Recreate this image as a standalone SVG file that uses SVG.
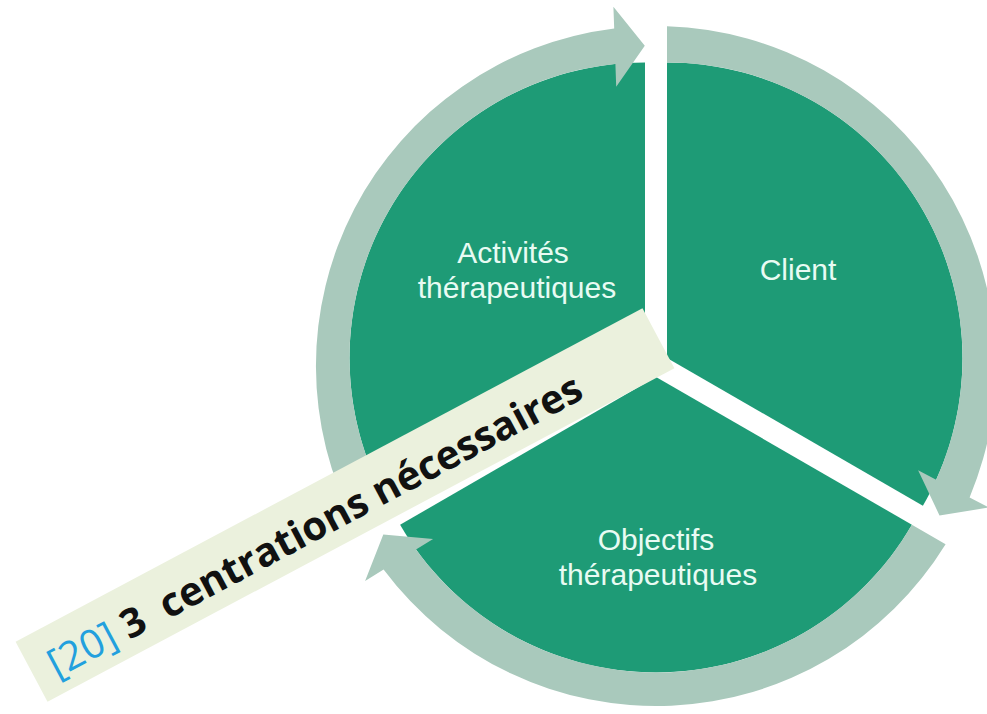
<svg xmlns="http://www.w3.org/2000/svg" width="987" height="714" viewBox="0 0 987 714">
<style>
.wedge{fill:#1e9b76}
.arrow{fill:#a9c9bc}
.lbl{font-family:"Liberation Sans","Open Sans",sans-serif;font-size:30px;fill:#e8fbf3;text-anchor:middle}
.banner{fill:#ebf1dd}
.btxt{font-family:"Open Sans","Noto Sans","Liberation Sans",sans-serif;font-size:40px}
.ref{fill:#22a0de;font-weight:normal}
.main{fill:#111111;font-weight:bold}
</style>
<rect width="987" height="714" fill="#ffffff"/>
<g id="node-client">
<path class="wedge" d="M667,357.95 L667,62.45 A295.5,295.5 0 0 1 922.9,505.7 Z"/>
<text class="lbl" x="798" y="280">Client</text>
</g>
<g id="node-objectifs">
<path class="wedge" d="M656,377 L911.9,524.75 A295.5,295.5 0 0 1 400.1,524.75 Z"/>
<text class="lbl" x="656" y="550">Objectifs</text>
<text class="lbl" x="658" y="585">thérapeutiques</text>
</g>
<g id="node-activites">
<path class="wedge" d="M645,357.95 L389.1,505.7 A295.5,295.5 0 0 1 645,62.45 Z"/>
<text class="lbl" x="513" y="263">Activités</text>
<text class="lbl" x="517" y="298">thérapeutiques</text>
</g>
<g id="connectors">
<path class="arrow" d="M355.5,525.1 A340,340 0 0 1 614.2,28.5 L613.4,6.7 L644.8,45.7 L616.2,86.7 L615.4,63.9 A295.5,295.5 0 0 0 389.1,505.7 Z"/>
<path class="arrow" d="M667,26.2 A340,340 0 0 1 969.6,497.4 L988.9,507.5 L939.5,515.4 L918.1,470.2 L936.2,479.8 A295.5,295.5 0 0 0 667,62.45 Z"/>
<path class="arrow" d="M945.6,544.2 A340,340 0 0 1 383.6,569.5 L365.1,580.9 L383.3,534.4 L433.1,538.9 L416,549.4 A295.5,295.5 0 0 0 911.9,524.75 Z"/>
</g>
<g id="label-banner" transform="translate(345,505) rotate(-28)">
<rect class="banner" x="-355" y="-34" width="710" height="68"/>
<text class="btxt" x="-336" y="18" xml:space="preserve"><tspan class="ref">[20]</tspan><tspan class="main"> 3  centrations nécessaires</tspan></text>
</g>
</svg>
